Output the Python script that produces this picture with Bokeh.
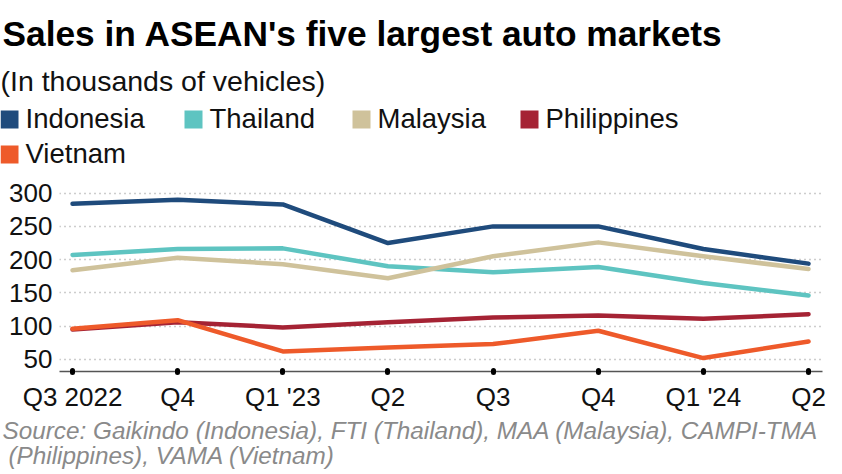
from bokeh.plotting import figure
from bokeh.models import Range1d, FixedTicker
from bokeh.core.properties import value
from bokeh.embed import file_html
from bokeh.resources import INLINE

# ---------------- data ----------------
quarters = ["Q3 2022", "Q4", "Q1 '23", "Q2", "Q3", "Q4", "Q1 '24", "Q2"]
indonesia = [284, 290, 283, 225, 250, 250, 216, 194]
thailand = [207, 216, 217, 190, 181, 189, 165, 146]
malaysia = [184, 203, 193, 172, 205, 226, 205, 186]
philippines = [95, 106, 98, 106, 113, 116, 111, 118]
vietnam = [96, 109, 62, 68, 73, 93, 52, 77]
series_names = ["Indonesia", "Thailand", "Malaysia", "Philippines", "Vietnam"]
series_colors = ["#1f4b7c", "#5ec4c1", "#cfc29b", "#a52334", "#ee5a2a"]
y_ticks = [50, 100, 150, 200, 250, 300]

title_text = "Sales in ASEAN's five largest auto markets"
subtitle_text = "(In thousands of vehicles)"
source_lines = ["Source: Gaikindo (Indonesia), FTI (Thailand), MAA (Malaysia), CAMPI-TMA",
                "(Philippines), VAMA (Vietnam)"]

FONT = "Liberation Sans"
W = 826

# ---------------- layout (picture pixels) ----------------
HEAD_BOT = 172
CHART_BOT = 414
FOOT_BOT = 470
FL, FR, FT, FB = 59, 822, 186, 374   # chart frame


def blank(y_top, y_bot):
    f = figure(width=W, height=y_bot - y_top, output_backend="svg", toolbar_location=None,
               x_range=Range1d(0, W), y_range=Range1d(y_bot, y_top),
               x_axis_location=None, y_axis_location=None, min_border=0)
    f.grid.visible = False
    f.outline_line_color = None
    return f


def base(y, size):
    # text glyph baseline correction
    return y - round(0.32 * size)

# ---------------- header ----------------
head = blank(0, HEAD_BOT)
head.text(x=[2], y=[base(44, 35.3)], text=[title_text], text_font=value(FONT),
          text_font_style="bold", text_font_size="35.3px", text_color="#000000",
          text_baseline="alphabetic")
head.text(x=[0], y=[base(89, 28.5)], text=[subtitle_text], text_font=value(FONT),
          text_font_size="28.5px", text_color="#111111", text_baseline="alphabetic")

leg_x = [0, 184, 352, 520, 0]
leg_row = [0, 0, 0, 0, 1]
row_base = [127, 162]
sq = 18
head.quad(left=leg_x, right=[x + sq for x in leg_x],
          top=[row_base[r] - 17 for r in leg_row], bottom=[row_base[r] + 1 for r in leg_row],
          fill_color=series_colors, line_color=None)
head.text(x=[x + 25 for x in leg_x], y=[base(row_base[r], 27.5) for r in leg_row],
          text=series_names, text_font=value(FONT), text_font_size="27.5px",
          text_color="#111111", text_baseline="alphabetic")

# ---------------- chart ----------------
XS, XE = -0.124, 7.133
YS, YE = 31.8, 310
p = figure(width=W, height=CHART_BOT - HEAD_BOT, output_backend="svg", toolbar_location=None,
           x_range=Range1d(XS, XE), y_range=Range1d(YS, YE),
           min_border_left=FL, min_border_right=W - FR,
           min_border_top=FT - HEAD_BOT, min_border_bottom=CHART_BOT - FB)
p.outline_line_color = None

xs = list(range(len(quarters)))
data = [indonesia, thailand, malaysia, philippines, vietnam]
for vals, col in zip(data, series_colors):
    p.line(xs, vals, line_color=col, line_width=4.5, line_join="round", line_cap="round")

p.xaxis.ticker = FixedTicker(ticks=xs)
p.xaxis.major_label_overrides = {i: q for i, q in enumerate(quarters)}
p.xaxis.major_label_text_font = FONT
p.xaxis.major_label_text_font_size = "26px"
p.xaxis.major_label_text_color = "#111111"
p.xaxis.major_label_standoff = 9
p.xaxis.axis_line_color = "#555555"
p.xaxis.axis_line_width = 1.5
p.xaxis.major_tick_line_color = "#000000"
p.xaxis.major_tick_line_width = 5
p.xaxis.major_tick_line_cap = "round"
p.xaxis.major_tick_in = 1
p.xaxis.major_tick_out = 1
p.xaxis.minor_tick_line_color = None

p.yaxis.ticker = FixedTicker(ticks=y_ticks)
p.yaxis.major_label_text_font = FONT
p.yaxis.major_label_text_font_size = "26px"
p.yaxis.major_label_text_color = "#111111"
p.yaxis.major_label_standoff = 7
p.yaxis.major_tick_out = 0
p.yaxis.major_tick_in = 0
p.yaxis.axis_line_color = None
p.yaxis.major_tick_line_color = None
p.yaxis.minor_tick_line_color = None

p.xgrid.grid_line_color = None
p.ygrid.grid_line_color = "#9a9a9a"
p.ygrid.grid_line_dash = "1 4"
p.ygrid.grid_line_width = 1.5

# ---------------- footer ----------------
foot = blank(CHART_BOT, FOOT_BOT)
foot.text(x=[2, 8], y=[base(438, 24.3), base(463, 24.3)], text=source_lines,
          text_font=value(FONT), text_font_style="italic", text_font_size="24.3px",
          text_color="#8a8a8a", text_baseline="alphabetic")

open("out.html", "w").write(file_html([head, p, foot], INLINE))
